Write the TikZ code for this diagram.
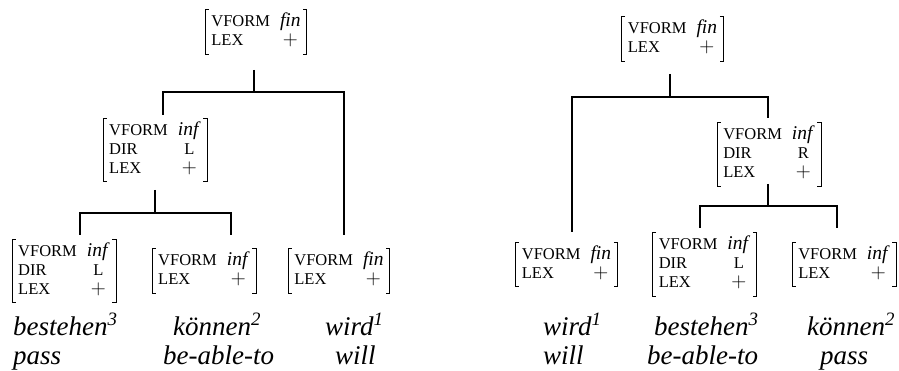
\documentclass[tikz,border=0pt]{standalone}
\usepackage{fontspec}
\setmainfont{Liberation Serif}
\tikzset{
 edge/.style={line width=1.4pt},
 avm/.style={inner xsep=6pt, inner ysep=3pt, font=\fontsize{16.5}{19}\selectfont},
 brk/.style={line width=0.9pt},
 word/.style={anchor=base west, inner sep=0pt, font=\fontsize{27}{32}\selectfont\itshape},
}
\newcommand{\val}[1]{{\fontsize{19.5}{19}\selectfont #1}}
\newcommand{\avmtwo}[1]{\begin{tabular}{@{}l@{\hspace{10pt}}c@{}}VFORM & \val{\textit{#1}}\\ LEX & \val{$+$}\end{tabular}}
\newcommand{\avmthree}[2]{\begin{tabular}{@{}l@{\hspace{10pt}}c@{}}VFORM & \val{\textit{#1}}\\ DIR & #2\\ LEX & \val{$+$}\end{tabular}}
\newcommand{\brackets}[1]{%
 \draw[brk] ([xshift=3.5pt]#1.north west) -- (#1.north west) -- (#1.south west) -- ([xshift=3.5pt]#1.south west);
 \draw[brk] ([xshift=-3.5pt]#1.north east) -- (#1.north east) -- (#1.south east) -- ([xshift=-3.5pt]#1.south east);}
\begin{document}
\begin{tikzpicture}[x=1pt,y=-1pt]
\useasboundingbox (0,0) rectangle (899,371);
% ---------- left tree ----------
\node[avm] (L0) at (256,32) {\avmtwo{fin}};
\node[avm] (L1) at (155,150) {\avmthree{inf}{L}};
\node[avm] (L2a) at (64,271) {\avmthree{inf}{L}};
\node[avm] (L2b) at (204,271) {\avmtwo{inf}};
\node[avm] (L2c) at (339,271) {\avmtwo{fin}};
\foreach \n in {L0,L1,L2a,L2b,L2c} {\brackets{\n}}
\coordinate (L0s) at (254,70);
\coordinate (L0b) at (254,92);
\coordinate (L1t) at (163,115);
\coordinate (L2ct) at (344,235);
\draw[edge] (L0s) -- (L0b);
\draw[edge] (L1t) |- (L2ct |- L0b) -- (L2ct);
\coordinate (L1s) at (155,190);
\coordinate (L1b) at (155,213);
\coordinate (L2at) at (80,235);
\coordinate (L2bt) at (231,235);
\draw[edge] (L1s) -- (L1b);
\draw[edge] (L2at) |- (L2bt |- L1b) -- (L2bt);
\node[word] (w1) at (13,335) {bestehen\textsuperscript{3}};
\node[word] (w2) at (173,335) {können\textsuperscript{2}};
\node[word] (w3) at (325,335) {wird\textsuperscript{1}};
\node[word] (g1) at (13,364) {pass};
\node[word] (g2) at (163,364) {be-able-to};
\node[word] (g3) at (335,364) {will};
% ---------- right tree ----------
\node[avm] (R0) at (672.5,39) {\avmtwo{fin}};
\node[avm] (R1) at (769,154.5) {\avmthree{inf}{R}};
\node[avm] (R2a) at (566.5,264.5) {\avmtwo{fin}};
\node[avm] (R2b) at (704.5,264.5) {\avmthree{inf}{L}};
\node[avm] (R2c) at (844,264.5) {\avmtwo{inf}};
\foreach \n in {R0,R1,R2a,R2b,R2c} {\brackets{\n}}
\coordinate (R0s) at (670,74);
\coordinate (R0b) at (670,97);
\coordinate (R2at) at (572,232);
\coordinate (R1t) at (768,118);
\draw[edge] (R0s) -- (R0b);
\draw[edge] (R2at) |- (R1t |- R0b) -- (R1t);
\coordinate (R1s) at (768,184);
\coordinate (R1b) at (768,206);
\coordinate (R2bt) at (700,228);
\coordinate (R2ct) at (837,228);
\draw[edge] (R1s) -- (R1b);
\draw[edge] (R2bt) |- (R2ct |- R1b) -- (R2ct);
\node[word] (v1) at (543,335) {wird\textsuperscript{1}};
\node[word] (v2) at (654,335) {bestehen\textsuperscript{3}};
\node[word] (v3) at (807,335) {können\textsuperscript{2}};
\node[word] (h1) at (543,364) {will};
\node[word] (h2) at (647,364) {be-able-to};
\node[word] (h3) at (820,364) {pass};
\end{tikzpicture}
\end{document}
